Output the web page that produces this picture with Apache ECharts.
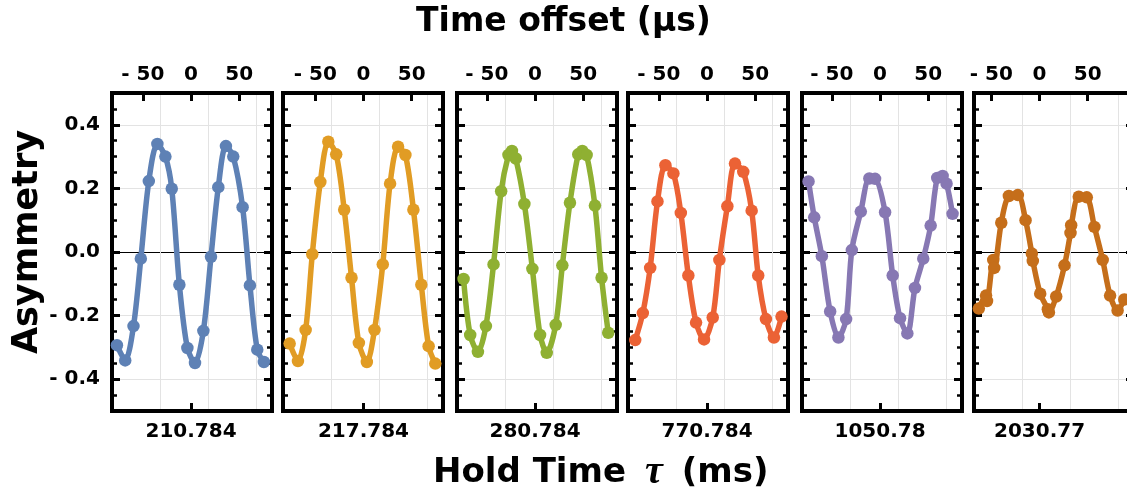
<!DOCTYPE html>
<html>
<head>
<meta charset="utf-8">
<script src="https://cdn.jsdelivr.net/npm/echarts@6/dist/echarts.min.js"></script>
<style>
html, body { margin: 0; background: #fff; }
#main { width: 1127px; height: 499px; }
</style>
</head>
<body>
<div id="main"></div>
<script>
// hold time of each panel (bottom labels)
const holdTimes = ['210.784', '217.784', '280.784', '770.784', '1050.78', '2030.77']

// time offset (us), asymmetry
const panel1 = [[-76.9, -0.293], [-68.3, -0.341], [-59.7, -0.233], [-52.1, -0.021], [-43.8, 0.223], [-34.9, 0.340], [-26.6, 0.300], [-20.0, 0.199], [-12.1, -0.103], [-3.8, -0.302], [4.1, -0.349], [12.8, -0.248], [20.7, -0.015], [28.3, 0.204], [36.2, 0.333], [43.8, 0.300], [53.5, 0.141], [61.1, -0.105], [68.7, -0.307], [75.6, -0.346]]
const panel2 = [[-76.6, -0.288], [-68.0, -0.343], [-60.0, -0.245], [-53.1, -0.007], [-44.8, 0.220], [-36.5, 0.347], [-28.3, 0.307], [-20.0, 0.133], [-12.4, -0.081], [-4.8, -0.286], [3.5, -0.346], [11.4, -0.245], [20.0, -0.039], [27.6, 0.215], [35.9, 0.331], [43.5, 0.305], [51.8, 0.133], [60.0, -0.103], [67.6, -0.296], [74.5, -0.351]]
const panel3 = [[-74.2, -0.085], [-67.3, -0.261], [-59.3, -0.314], [-51.0, -0.233], [-43.1, -0.039], [-35.2, 0.191], [-27.6, 0.305], [-24.0, 0.318], [-20.0, 0.294], [-11.1, 0.151], [-2.8, -0.053], [5.2, -0.261], [12.1, -0.317], [21.4, -0.229], [28.3, -0.042], [36.2, 0.155], [44.8, 0.307], [49.0, 0.318], [53.5, 0.305], [62.1, 0.146], [69.0, -0.081], [75.9, -0.254]]
const panel4 = [[-74.5, -0.277], [-66.6, -0.192], [-59.0, -0.050], [-51.4, 0.159], [-43.2, 0.273], [-34.9, 0.247], [-27.2, 0.123], [-19.4, -0.074], [-11.4, -0.222], [-3.1, -0.275], [5.9, -0.206], [12.8, -0.025], [21.1, 0.144], [29.0, 0.278], [37.6, 0.252], [46.3, 0.130], [53.1, -0.074], [61.1, -0.211], [69.4, -0.269], [77.3, -0.203]]
const panel5 = [[-74.2, 0.222], [-68.3, 0.109], [-60.4, -0.013], [-51.8, -0.187], [-43.2, -0.269], [-35.2, -0.211], [-29.3, 0.006], [-20.0, 0.127], [-11.1, 0.231], [-5.2, 0.230], [5.2, 0.125], [13.1, -0.074], [20.7, -0.208], [28.3, -0.256], [36.2, -0.113], [44.8, -0.021], [52.5, 0.083], [59.3, 0.233], [64.9, 0.239], [69.0, 0.215], [75.2, 0.120]]
const panel6 = [[-63.0, -0.178], [-55.5, -0.137], [-54.5, -0.154], [-48.0, -0.025], [-47.0, -0.050], [-39.7, 0.092], [-31.8, 0.176], [-22.5, 0.179], [-14.5, 0.100], [-8.0, -0.005], [-7.0, -0.028], [0.7, -0.131], [8.6, -0.180], [9.7, -0.190], [17.3, -0.140], [25.9, -0.042], [32.1, 0.060], [32.8, 0.084], [40.7, 0.174], [49.0, 0.172], [56.9, 0.079], [65.5, -0.025], [73.2, -0.137], [81.0, -0.184], [87.9, -0.149]]
const panels = [panel1, panel2, panel3, panel4, panel5, panel6]

// axis ranges (time offset) and ticks
const xMins = [-82, -83.5, -81, -82, -81, -68]
const xSpan = 166
const topTicks = [-50, 0, 50]
const yTicks = [-0.4, -0.2, 0, 0.2, 0.4]

const colors = ['#5e81b5', '#e19c24', '#8fb032', '#eb6235', '#8778b3', '#c56e1a']
const lefts = [112, 283, 457, 628, 802, 974]
const font = 'DejaVu Sans'

const chartDom = document.getElementById('main')
const myChart = echarts.init(chartDom, null, { width: 1127, height: 499 })

const fmtX = v => (v < 0 ? '- ' + Math.abs(v) : String(v))
const fmtY = v => (v < 0 ? '- ' + Math.abs(v).toFixed(1) : v.toFixed(1))
const labelStyle = { color: '#000', fontFamily: font, fontWeight: 'bold', fontSize: 20 }
const tickStyle = { color: '#000', width: 3 }
const frameLine = { show: true, onZero: false, lineStyle: { color: '#000', width: 4, cap: 'square' } }
const noLine = { show: false, onZero: false }

const grid = []
const xAxis = []
const yAxis = []
const series = []

panels.forEach((pts, i) => {
    grid.push({ left: lefts[i], top: 93, width: 160, height: 318, outerBoundsMode: 'none', containLabel: false })
    const min = xMins[i]
    const max = xMins[i] + xSpan
    // top: time offset
    xAxis.push({
        gridIndex: i, type: 'value', position: 'top', min, max,
        axisLine: frameLine,
        axisTick: { inside: true, length: 8, lineStyle: tickStyle, customValues: topTicks },
        axisLabel: { ...labelStyle, customValues: topTicks, formatter: fmtX, margin: 8 },
        splitLine: { show: false }
    })
    // bottom: hold time
    xAxis.push({
        gridIndex: i, type: 'value', position: 'bottom', min, max,
        axisLine: frameLine,
        axisTick: { inside: true, length: 8, lineStyle: tickStyle, customValues: [0] },
        axisLabel: { ...labelStyle, customValues: [0], formatter: () => holdTimes[i], margin: 11 },
        splitLine: { show: false }
    })
    // vertical grid lines
    xAxis.push({
        gridIndex: i, type: 'value', position: 'bottom', min: 0, max: xSpan, interval: 50,
        axisLine: noLine, axisTick: { show: false }, axisLabel: { show: false },
        splitLine: { show: true, lineStyle: { color: '#e3e3e3', width: 1 } }
    })

    ;['left', 'right'].forEach(side => {
        yAxis.push({
            gridIndex: i, type: 'value', position: side, min: -0.5, max: 0.5,
            axisLine: frameLine,
            axisTick: { inside: true, length: 8, lineStyle: tickStyle, customValues: yTicks },
            axisLabel: { ...labelStyle, show: i === 0 && side === 'left', customValues: yTicks, formatter: fmtY, margin: 12 },
            splitLine: side === 'left'
                ? { show: true, lineStyle: { color: ['#e3e3e3', '#e3e3e3', '#000', '#e3e3e3', '#e3e3e3'], width: 1.2 } }
                : { show: false },
            name: i === 0 && side === 'left' ? 'Asymmetry' : '',
            nameLocation: 'middle',
            nameGap: 62,
            nameTextStyle: { color: '#000', fontFamily: font, fontWeight: 'bold', fontSize: 35, padding: [0, 0, 0, 20] }
        })
        yAxis.push({
            gridIndex: i, type: 'value', position: side, min: -0.5, max: 0.5, interval: 0.05,
            axisLine: noLine,
            axisTick: { inside: true, length: 5, lineStyle: { color: '#000', width: 2.5 } },
            axisLabel: { show: false },
            splitLine: { show: false }
        })
    })

    series.push({
        type: 'line',
        xAxisIndex: 3 * i,
        yAxisIndex: 4 * i,
        data: pts,
        smooth: 0.3,
        symbol: 'circle',
        symbolSize: 12.5,
        showSymbol: true,
        clip: true,
        lineStyle: { color: colors[i], width: 5.5 },
        itemStyle: { color: colors[i] },
        z: 3
    })
})

const option = {
    animation: false,
    backgroundColor: '#fff',
    title: [
        {
            text: 'Time offset (µs)',
            left: 'center',
            top: 1,
            textStyle: { color: '#000', fontFamily: font, fontWeight: 'bold', fontSize: 33 }
        },
        {
            text: '{a|Hold Time}{t|τ}{a|(ms)}',
            left: 428,
            top: 448,
            textStyle: {
                rich: {
                    a: { color: '#000', fontFamily: font, fontWeight: 'bold', fontSize: 34 },
                    t: { color: '#000', fontFamily: 'Liberation Serif', fontStyle: 'italic', fontSize: 40, padding: [0, 19, 0, 19] }
                }
            }
        }
    ],
    grid,
    xAxis,
    yAxis,
    series
}

option && myChart.setOption(option)
</script>
</body>
</html>
